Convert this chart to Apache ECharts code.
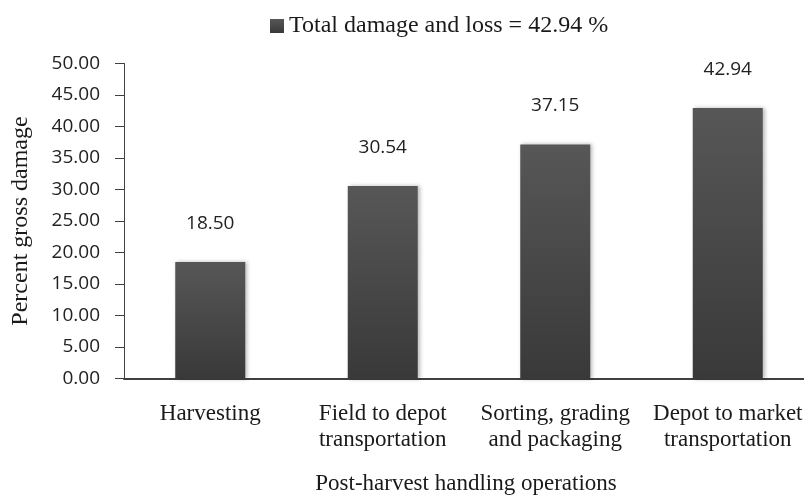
<!DOCTYPE html>
<html>
<head>
<meta charset="utf-8">
<script src="https://cdn.jsdelivr.net/npm/echarts@6/dist/echarts.min.js"></script>
<style>
  html, body { margin: 0; padding: 0; background: #fff; overflow: hidden; }
  #chart { width: 804px; height: 500px; }
</style>
</head>
<body>
<div id="chart"></div>
<script>
// Post-harvest operations and cumulative percent gross damage
const categories = [
  'Harvesting',
  'Field to depot\ntransportation',
  'Sorting, grading\nand packaging',
  'Depot to market\ntransportation'
];
const damageValues = [18.50, 30.54, 37.15, 42.94];
const seriesName = 'Total damage and loss = 42.94 %';
const yTicks = { min: 0, max: 50, interval: 5 };

const serif = '"Liberation Serif", "Times New Roman", serif';
const sans = '"Open Sans", "Liberation Sans", sans-serif';

const chart = echarts.init(document.getElementById('chart'), null, { renderer: 'canvas' });

chart.setOption({
  backgroundColor: '#ffffff',
  animation: false,
  legend: {
    data: [seriesName],
    left: 265,
    top: 9,
    icon: 'rect',
    itemWidth: 14,
    itemHeight: 14,
    textStyle: { fontFamily: serif, fontSize: 24, color: '#1a1a1a' }
  },
  grid: {
    left: 124, top: 63.5, width: 690, height: 315,
    outerBoundsMode: 'none', containLabel: false
  },
  xAxis: {
    type: 'category',
    data: categories,
    axisLine: { lineStyle: { color: '#404040', width: 2 } },
    axisTick: { show: false },
    axisLabel: {
      fontFamily: serif, fontSize: 23, color: '#1a1a1a',
      lineHeight: 26, margin: 22, interval: 0, hideOverlap: false
    }
  },
  yAxis: {
    type: 'value',
    min: yTicks.min,
    max: yTicks.max,
    interval: yTicks.interval,
    axisLine: { show: true, lineStyle: { color: '#404040', width: 1 } },
    axisTick: { show: true, length: 9, lineStyle: { color: '#404040' } },
    splitLine: { show: false },
    axisLabel: {
      fontFamily: sans, fontSize: 19, color: '#222',
      margin: 24,
      formatter: v => v.toFixed(2)
    }
  },
  graphic: [
    {
      type: 'text',
      x: 21, y: 221,
      rotation: Math.PI / 2,
      style: {
        text: 'Percent gross damage',
        fontFamily: serif, fontSize: 24, fill: '#1a1a1a',
        align: 'center', verticalAlign: 'middle'
      }
    },
    {
      type: 'text',
      x: 466, y: 484,
      style: {
        text: 'Post-harvest handling operations',
        fontFamily: serif, fontSize: 23, fill: '#1a1a1a',
        align: 'center', verticalAlign: 'middle'
      }
    }
  ],
  series: [{
    name: seriesName,
    type: 'bar',
    data: damageValues,
    barWidth: 70,
    itemStyle: {
      color: new echarts.graphic.LinearGradient(0, 0, 0, 1, [
        { offset: 0, color: '#575757' },
        { offset: 1, color: '#393939' }
      ]),
      shadowColor: 'rgba(0,0,0,0.28)',
      shadowBlur: 4,
      shadowOffsetX: 2,
      shadowOffsetY: 0
    },
    label: {
      show: true,
      position: 'top',
      distance: 29,
      fontFamily: sans, fontSize: 19, color: '#222',
      formatter: p => p.value.toFixed(2)
    }
  }]
});
</script>
</body>
</html>
